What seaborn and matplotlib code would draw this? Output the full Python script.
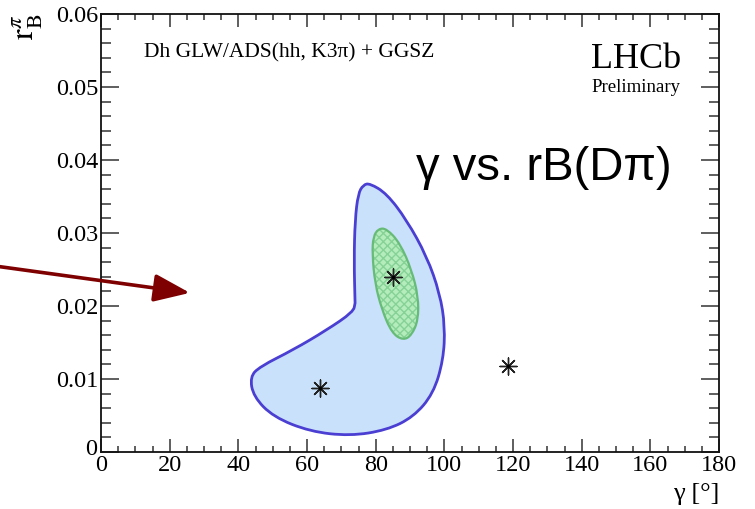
import matplotlib
matplotlib.use("Agg")
import matplotlib.pyplot as plt
import matplotlib.transforms as mtransforms
import seaborn as sns
import pandas as pd
from matplotlib.path import Path
from matplotlib.patches import PathPatch
from matplotlib.ticker import MultipleLocator, FixedFormatter, FixedLocator

# ---- data ----
outer_gamma = [78.3, 83.2, 89.0, 94.9, 98.7, 100.2, 99.7, 96.8, 91.0, 83.2, 72.5, 60.9,
               50.2, 44.4, 43.4, 46.3, 56.0, 65.7, 73.5, 74.0, 73.7, 74.0, 74.9, 76.4]
outer_rb = [0.0368, 0.0354, 0.0318, 0.0268, 0.0217, 0.0172, 0.0126, 0.0080, 0.0048, 0.0030,
            0.0022, 0.0028, 0.0048, 0.0076, 0.0103, 0.0117, 0.0140, 0.0167, 0.0192, 0.0204,
            0.0263, 0.0318, 0.0354, 0.0366]
inner_gamma = [80.8, 83.2, 87.1, 90.5, 92.4, 92.4, 90.5, 88.0, 84.7, 81.8, 79.8, 79.0, 79.3]
inner_rb = [0.0306, 0.0306, 0.0286, 0.0249, 0.0213, 0.0181, 0.0160, 0.0153, 0.0163,
            0.0195, 0.0231, 0.0272, 0.0295]
best_gamma = [85.1, 63.8, 118.6]
best_rb = [0.0240, 0.0088, 0.0118]

x_ticks = [0, 20, 40, 60, 80, 100, 120, 140, 160, 180]
y_ticks = [0, 0.01, 0.02, 0.03, 0.04, 0.05, 0.06]
y_tick_labels = ["0", "0.01", "0.02", "0.03", "0.04", "0.05", "0.06"]


def smooth_path(xs, ys, sharp=()):
    """Closed path with rounded corners (quadratic curves through edge midpoints)."""
    pts = list(zip(xs, ys))
    n = len(pts)
    mids = [((pts[i][0] + pts[(i + 1) % n][0]) / 2, (pts[i][1] + pts[(i + 1) % n][1]) / 2)
            for i in range(n)]
    verts = [mids[-1]]
    codes = [Path.MOVETO]
    for i in range(n):
        if i in sharp:
            verts += [pts[i], mids[i]]
            codes += [Path.LINETO, Path.LINETO]
        else:
            verts += [pts[i], mids[i]]
            codes += [Path.CURVE3, Path.CURVE3]
    verts.append(mids[-1])
    codes.append(Path.CLOSEPOLY)
    return Path(verts, codes)


sns.set_style("ticks")
plt.rcParams["font.family"] = ["Liberation Serif", "DejaVu Serif"]
plt.rcParams["mathtext.fontset"] = "stix"
plt.rcParams["text.color"] = "black"
plt.rcParams["axes.labelcolor"] = "black"
plt.rcParams["xtick.labelcolor"] = "black"
plt.rcParams["ytick.labelcolor"] = "black"

fig = plt.figure(figsize=(7.55, 5.09), dpi=100)
ax = fig.add_axes([101 / 755, 1 - 452 / 509, 618 / 755, 438 / 509])

# contours
ax.add_patch(PathPatch(smooth_path(outer_gamma, outer_rb, sharp=(19,)),
                       facecolor="#c9e1fa", edgecolor="#4a3fd2", linewidth=2.0, zorder=2))
ax.add_patch(PathPatch(smooth_path(inner_gamma, inner_rb), facecolor="#b4ecbc",
                       edgecolor="none", zorder=3))
ax.add_patch(PathPatch(smooth_path(inner_gamma, inner_rb), facecolor="none",
                       edgecolor="#86d296", hatch="xxxx", linewidth=0, zorder=3))
ax.add_patch(PathPatch(smooth_path(inner_gamma, inner_rb), facecolor="none",
                       edgecolor="#66bb77", linewidth=1.6, zorder=3))

df = pd.DataFrame({"gamma": best_gamma, "rb": best_rb})
sns.scatterplot(data=df, x="gamma", y="rb", marker=(8, 2, 0), s=150, color="#222222",
                linewidth=1.0, ax=ax, zorder=5)
sns.scatterplot(data=df, x="gamma", y="rb", marker="o", s=6, color="black",
                linewidth=0, ax=ax, zorder=6)

ax.set_xlim(0, 180)
ax.set_ylim(0, 0.06)
ax.xaxis.set_major_locator(FixedLocator(x_ticks))
ax.xaxis.set_minor_locator(MultipleLocator(5))
ax.yaxis.set_major_locator(FixedLocator(y_ticks))
ax.yaxis.set_major_formatter(FixedFormatter(y_tick_labels))
ax.yaxis.set_minor_locator(MultipleLocator(0.002))

for side in ["top", "right", "bottom", "left"]:
    ax.spines[side].set_visible(True)
    ax.spines[side].set_linewidth(1.3)
    ax.spines[side].set_color("#111111")

ax.tick_params(axis="both", which="both", direction="in", top=True, right=True,
               color="#333333", width=1.1)
ax.tick_params(axis="y", which="major", length=13, labelsize=17.5, pad=2)
ax.tick_params(axis="y", which="minor", length=7)
ax.tick_params(axis="x", which="major", length=9.5, labelsize=17.5, pad=2)
ax.tick_params(axis="x", which="minor", length=4.5)

# lift the y "0" label a little so it does not collide with the x "0" label
fig.canvas.draw()
ylab0 = ax.yaxis.get_major_ticks()[0].label1
ylab0.set_transform(ylab0.get_transform() +
                    mtransforms.ScaledTranslation(-1 / 100, 5 / 100, fig.dpi_scale_trans))

ax.set_xlabel("γ [°]", fontsize=19, loc="right")
ax.xaxis.set_label_coords(1.0, -0.07)
ax.set_ylabel(r"$\mathrm{r}_{\mathrm{B}}^{\pi}$", fontsize=23, loc="top", rotation=90)
ax.yaxis.set_label_coords(-0.09, 1.0)

ax.text((144 - 101) / 618, (452 - 53) / 438, "Dh GLW/ADS(hh, K3π) + GGSZ",
        transform=ax.transAxes, fontsize=15.5, ha="left", va="center")
ax.text((636 - 101) / 618, (452 - 59) / 438, "LHCb", transform=ax.transAxes,
        fontsize=26, ha="center", va="center")
ax.text((636 - 101) / 618, (452 - 87) / 438, "Preliminary", transform=ax.transAxes,
        fontsize=13.5, ha="center", va="center")

fig.text(416 / 755, 1 - 180 / 509, "γ vs. rB(Dπ)", fontsize=34, color="black",
         family=["Liberation Sans", "DejaVu Sans"], ha="left", va="baseline")

ax.annotate("", xy=(25.9, 0.0218), xycoords="data",
            xytext=(0.0, 1 - 266.7 / 509), textcoords="figure fraction",
            arrowprops=dict(arrowstyle="-|>,head_length=2.2,head_width=0.85",
                            color="#7f0000", lw=2.6, shrinkA=0, shrinkB=0),
            annotation_clip=False, zorder=10)

fig.savefig("out.png", dpi=100)
